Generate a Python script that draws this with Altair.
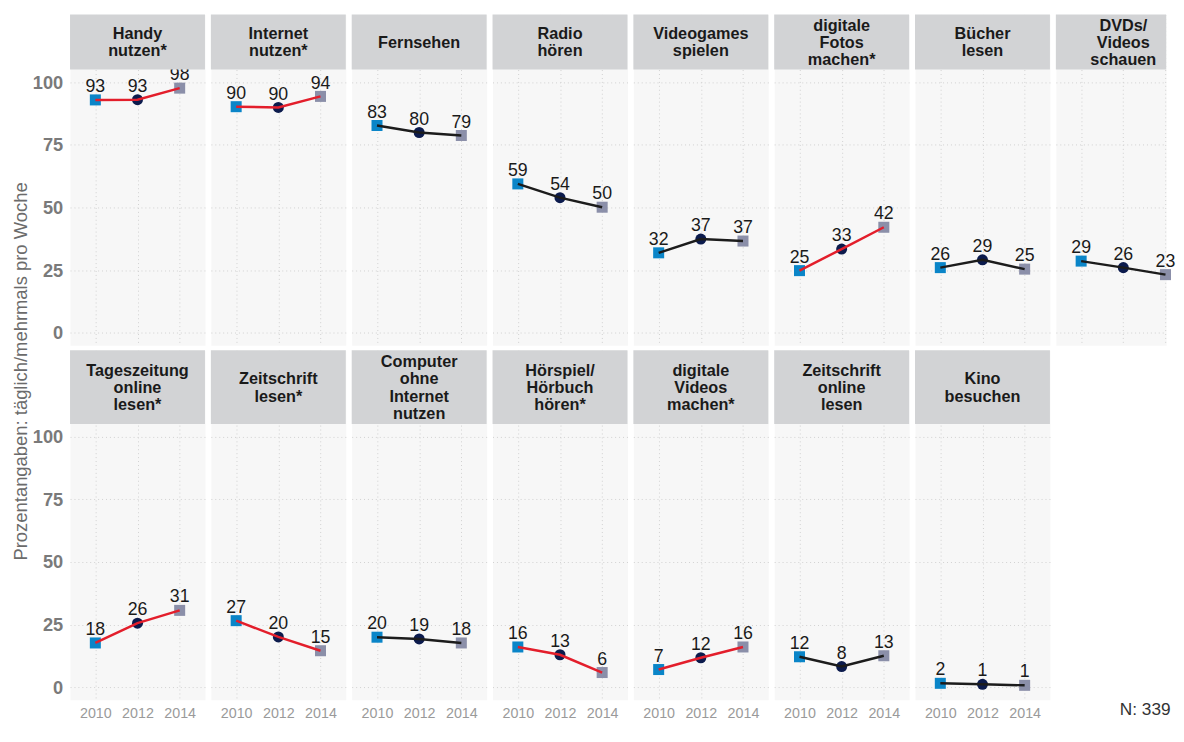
import altair as alt
import pandas as pd

years = [2010, 2012, 2014]

row1_titles = ["Handy\nnutzen*", "Internet\nnutzen*", "Fernsehen", "Radio\nhören",
               "Videogames\nspielen", "digitale\nFotos\nmachen*", "Bücher\nlesen",
               "DVDs/\nVideos\nschauen"]
row1_values = [
    [92.9, 93.0, 97.6],
    [90.2, 89.9, 94.3],
    [82.7, 79.9, 78.7],
    [59.4, 53.9, 50.1],
    [31.9, 37.4, 36.6],
    [24.8, 33.4, 42.1],
    [26.0, 29.1, 25.4],
    [28.6, 26.0, 23.2],
]
row2_titles = ["Tageszeitung\nonline\nlesen*", "Zeitschrift\nlesen*",
               "Computer\nohne\nInternet\nnutzen", "Hörspiel/\nHörbuch\nhören*",
               "digitale\nVideos\nmachen*", "Zeitschrift\nonline\nlesen",
               "Kino\nbesuchen"]
row2_values = [
    [17.7, 25.6, 30.7],
    [26.6, 20.1, 14.6],
    [20.0, 19.3, 17.7],
    [16.1, 13.0, 5.9],
    [7.1, 11.8, 16.1],
    [12.2, 8.3, 12.6],
    [1.6, 1.2, 0.8],
]
y_title = "Prozentangaben: täglich/mehrmals pro Woche"
caption = "N: 339"

FONT = "Liberation Sans"
BLUE, NAVY, GRAYPT = "#0a85c8", "#0c1b4d", "#8b8fa9"
RED, BLACK = "#e31e2b", "#1c1c1c"
HEADER, PANEL, GRID = "#d2d3d5", "#f7f7f7", "#d0d0d0"
W = 137
X_SPAN = 6.4           # x domain width (years) for a full panel
X_MIN = 2008.8
PLOT_H = 280
HH1, HH2 = 56, 75
HFS, HLH = 16.5, 17.5  # header font size / line height
GAP = 4


def panel(title, vals, header_h, first_col, bottom_row, width=W, extra=None):
    df = pd.DataFrame({
        "year": years,
        "yr": [str(y) for y in years],
        "value": vals,
        "label": [str(int(round(v))) for v in vals],
    })
    top = 105 + header_h * 110 / PLOT_H
    x_max = X_MIN + X_SPAN * width / W
    x = alt.X("year:Q",
              scale=alt.Scale(domain=[X_MIN, x_max], nice=False, zero=False),
              axis=alt.Axis(values=years, format="d", labels=bottom_row, ticks=False,
                            domain=False, grid=True, gridColor=GRID, gridDash=[1, 3],
                            gridWidth=1, labelFontSize=14.5, labelColor="#9a9a9a",
                            labelPadding=7, labelFont=FONT, title=None))
    y = alt.Y("value:Q",
              scale=alt.Scale(domain=[-5, top], nice=False, zero=False),
              axis=alt.Axis(values=[0, 25, 50, 75, 100], labels=first_col, ticks=False,
                            domain=False, grid=True, gridColor=GRID, gridDash=[1, 3],
                            gridWidth=1, labelFontSize=18.5, labelFontWeight="bold",
                            labelColor="#7a7a7a", labelPadding=7.5, labelFont=FONT,
                            title=None))
    line_color = RED if "*" in title else BLACK
    base = alt.Chart(df)
    pts = base.mark_point(filled=True, size=125, opacity=1).encode(
        x=x, y=y,
        color=alt.Color("yr:N", scale=alt.Scale(domain=["2010", "2012", "2014"],
                                                range=[BLUE, NAVY, GRAYPT]), legend=None),
        shape=alt.Shape("yr:N", scale=alt.Scale(domain=["2010", "2012", "2014"],
                                                range=["square", "circle", "square"]),
                        legend=None),
    )
    line = base.mark_line(color=line_color, strokeWidth=2.5).encode(x=x, y=y)
    labels = base.mark_text(dy=-8, baseline="alphabetic", fontSize=18, font=FONT,
                            color="#1a1a1a").encode(x=x, y=y, text="label:N")
    lines = title.split("\n")
    text_y = header_h / 2 - (0.86 * HFS + (len(lines) - 1) * HLH) / 2
    hdr = pd.DataFrame({"t": [title]})
    hrect = alt.Chart(hdr).mark_rect(color=HEADER).encode(
        x=alt.value(0), x2=alt.value(width), y=alt.value(0), y2=alt.value(header_h))
    htexts = []
    for i, ln in enumerate(lines):
        htexts.append(
            alt.Chart(pd.DataFrame({"t": [ln]})).mark_text(
                fontSize=HFS, fontWeight="bold", font=FONT, color="#1a1a1a",
                align="center", baseline="top").encode(
                x=alt.value(W / 2), y=alt.value(text_y + i * HLH), text="t:N"))
    layers = [pts, line, labels, hrect] + htexts
    if extra is not None:
        layers.append(extra)
    return alt.layer(*layers).properties(
        width=width, height=header_h + PLOT_H,
        view=alt.ViewBackground(fill=PANEL, stroke="transparent"))


cap_chart = alt.Chart(pd.DataFrame({"t": [caption]})).mark_text(
    fontSize=17.5, font=FONT, color="#333333", align="left", baseline="alphabetic"
).encode(x=alt.value(208), y=alt.value(370), text="t:N")

n1 = len(row1_titles)
row1 = alt.hconcat(*[
    panel(t, v, HH1, i == 0, False, width=(112 if i == n1 - 1 else W))
    for i, (t, v) in enumerate(zip(row1_titles, row1_values))
], spacing=GAP)
row2 = alt.hconcat(*[
    panel(t, v, HH2, i == 0, True, extra=(cap_chart if i == len(row2_titles) - 1 else None))
    for i, (t, v) in enumerate(zip(row2_titles, row2_values))
], spacing=GAP)

title_chart = alt.Chart(pd.DataFrame({"t": [y_title]})).mark_text(
    angle=270, fontSize=18.7, font=FONT, color="#6b6b6b", align="center", baseline="middle"
).encode(x=alt.value(12.5), y=alt.value(362.5), text="t:N").properties(
    width=20, height=690, view=alt.ViewBackground(fill="transparent", stroke="transparent"))

chart = alt.hconcat(title_chart, alt.vconcat(row1, row2, spacing=3), spacing=0).properties(
    padding={"left": 0, "top": 0, "right": 0, "bottom": 0}
).configure(font=FONT, view=alt.ViewConfig(stroke="transparent"))

chart.save("out.html", embed_options={"renderer": "svg", "actions": False})
